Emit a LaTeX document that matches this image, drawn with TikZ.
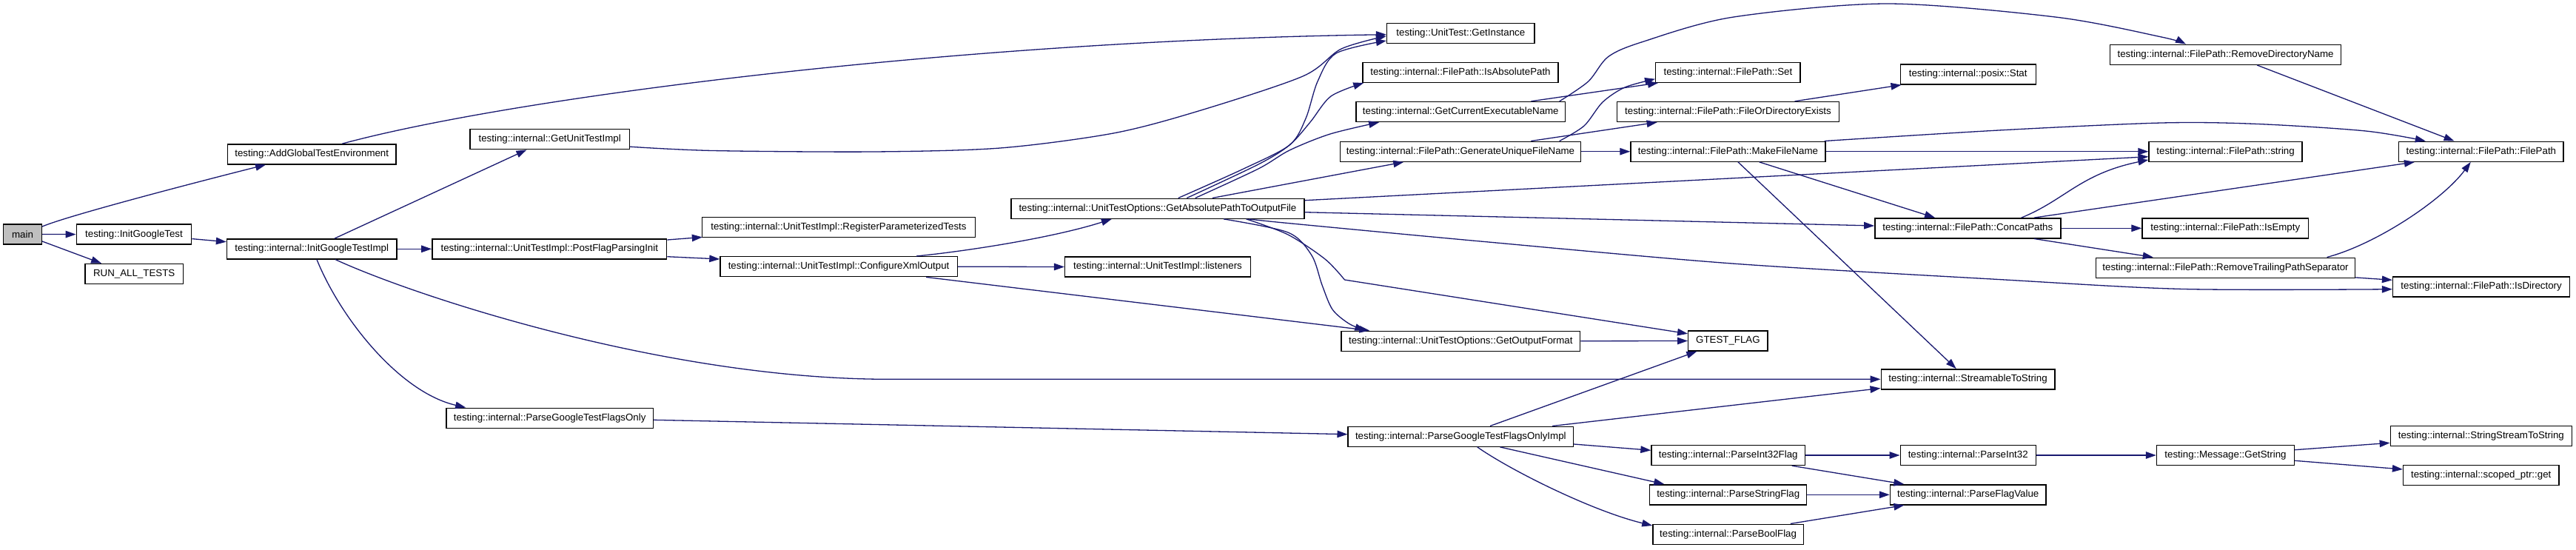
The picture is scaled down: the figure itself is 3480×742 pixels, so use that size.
\documentclass[tikz,border=0pt]{standalone}
\usepackage{fontspec}
\setmainfont{Liberation Sans}
\usetikzlibrary{arrows.meta}
\definecolor{edgecol}{HTML}{191970}
\definecolor{mainfill}{HTML}{BFBFBF}
\begin{document}
\begin{tikzpicture}[x=1pt,y=-1pt,
  box/.style={draw=black, fill=white, line width=1.4pt, minimum height=27pt, inner sep=0pt, font=\fontsize{13.3}{16}\selectfont},
  edge/.style={draw=edgecol, line width=1.3pt, -{Triangle[length=14pt,width=9.5pt]}}]
\useasboundingbox (0,0) rectangle (3480,742);
\fill[white] (0,0) rectangle (3480,742);
% nodes
\node[box, fill=mainfill, minimum width=51.7pt] (main) at (30.5,316.5) {main};
\node[box, minimum width=155.4pt] (igt) at (181,316.6) {testing::InitGoogleTest};
\node[box, minimum width=132.8pt] (rat) at (181.2,370) {RUN\_ALL\_TESTS};
\node[box, minimum width=227.7pt] (agte) at (421.2,208.3) {testing::AddGlobalTestEnvironment};
\node[box, minimum width=229.3pt] (igti) at (421.2,336.3) {testing::internal::InitGoogleTestImpl};
\node[box, minimum width=215.1pt] (guti) at (742.7,188.2) {testing::internal::GetUnitTestImpl};
\node[box, minimum width=316.9pt] (pfpi) at (742.3,336.3) {testing::internal::UnitTestImpl::PostFlagParsingInit};
\node[box, minimum width=279.3pt] (pgtfo) at (742.7,564.7) {testing::internal::ParseGoogleTestFlagsOnly};
\node[box, minimum width=368.8pt] (rpt) at (1132.9,307.2) {testing::internal::UnitTestImpl::RegisterParameterizedTests};
\node[box, minimum width=320.2pt] (cxo) at (1133.1,360.2) {testing::internal::UnitTestImpl::ConfigureXmlOutput};
\node[box, minimum width=395.9pt] (gapof) at (1563.9,281.7) {testing::internal::UnitTestOptions::GetAbsolutePathToOutputFile};
\node[box, minimum width=250.7pt] (lis) at (1564,360.5) {testing::internal::UnitTestImpl::listeners};
\node[box, minimum width=199.4pt] (gi) at (1973.3,44.7) {testing::UnitTest::GetInstance};
\node[box, minimum width=264.1pt] (iap) at (1973,97.8) {testing::internal::FilePath::IsAbsolutePath};
\node[box, minimum width=282.9pt] (gcen) at (1973.3,151) {testing::internal::GetCurrentExecutableName};
\node[box, minimum width=325.3pt] (gufn) at (1973,204.7) {testing::internal::FilePath::GenerateUniqueFileName};
\node[box, minimum width=322.6pt] (gof) at (1973.3,460.7) {testing::internal::UnitTestOptions::GetOutputFormat};
\node[box, minimum width=304.3pt] (pgtfoi) at (1973.3,589.7) {testing::internal::ParseGoogleTestFlagsOnlyImpl};
\node[box, minimum width=195.4pt] (fpset) at (2334.4,97.8) {testing::internal::FilePath::Set};
\node[box, minimum width=300.3pt] (fode) at (2334.5,151) {testing::internal::FilePath::FileOrDirectoryExists};
\node[box, minimum width=262.8pt] (mfn) at (2334.4,204.7) {testing::internal::FilePath::MakeFileName};
\node[box, minimum width=107.4pt] (gflag) at (2334.4,460.5) {GTEST\_FLAG};
\node[box, minimum width=207.3pt] (pi32f) at (2334.7,615) {testing::internal::ParseInt32Flag};
\node[box, minimum width=211.9pt] (psf) at (2334.7,668.3) {testing::internal::ParseStringFlag};
\node[box, minimum width=203.4pt] (pbf) at (2334.6,721.7) {testing::internal::ParseBoolFlag};
\node[box, minimum width=183pt] (pstat) at (2658.7,100.5) {testing::internal::posix::Stat};
\node[box, minimum width=251pt] (cp) at (2658.3,308.3) {testing::internal::FilePath::ConcatPaths};
\node[box, minimum width=234.6pt] (stos) at (2658.5,512.3) {testing::internal::StreamableToString};
\node[box, minimum width=183pt] (pi32) at (2658.7,615) {testing::internal::ParseInt32};
\node[box, minimum width=210.5pt] (pfv) at (2658.7,668.3) {testing::internal::ParseFlagValue};
\node[box, minimum width=312.3pt] (rdn) at (3006.6,73.8) {testing::internal::FilePath::RemoveDirectoryName};
\node[box, minimum width=207.1pt] (fstr) at (3006.6,204.7) {testing::internal::FilePath::string};
\node[box, minimum width=224.6pt] (ie) at (3006.3,308.3) {testing::internal::FilePath::IsEmpty};
\node[box, minimum width=349.5pt] (rtps) at (3006.5,361.7) {testing::internal::FilePath::RemoveTrailingPathSeparator};
\node[box, minimum width=186pt] (gs) at (3006.5,615) {testing::Message::GetString};
\node[box, minimum width=222.7pt] (ffp) at (3351.8,204.7) {testing::internal::FilePath::FilePath};
\node[box, minimum width=239pt] (isdir) at (3352.1,387.3) {testing::internal::FilePath::IsDirectory};
\node[box, minimum width=244.9pt] (ssts) at (3351.8,588.7) {testing::internal::StringStreamToString};
\node[box, minimum width=210.2pt] (spg) at (3351.7,641.7) {testing::internal::scoped\_ptr::get};
% edges
\draw[edge] ([yshift=-3.7pt]main.north east) .. controls (90,292) and (250,250) .. ([xshift=52.4pt]agte.south west);
\draw[edge] (main.east) -- (igt.west);
\draw[edge] ([yshift=4.7pt]main.south east) -- ([xshift=23pt]rat.north west);
\draw[edge] ([xshift=155.7pt]agte.north west) .. controls (700,130) and (1300,55) .. ([yshift=-2pt]gi.west);
\draw[edge] ([yshift=-6pt]igt.east) -- ([yshift=9.6pt]igti.west);
\draw[edge] ([xshift=146.2pt]igti.north west) -- ([xshift=77pt]guti.south west);
\draw[edge] (igti.east) -- (pfpi.west);
\draw[edge] ([xshift=122.1pt]igti.south west) .. controls (460,430) and (540,530) .. ([xshift=26.8pt]pgtfo.north west);
\draw[edge] ([xshift=147pt]igti.south west) .. controls (560,400) and (900,512.3) .. (1200,512.3) -- (stos.west);
\draw[edge] plot[smooth, tension=0.5] coordinates {([yshift=-10pt]guti.east) (962.7,203.5) (1180,205) (1351,200) (1504,180) (1619,150) (1760,103) (1812,66) ([yshift=-4pt]gi.west)};
\draw[edge] ([yshift=12.3pt]pfpi.east) -- ([xshift=1pt,yshift=1pt]rpt.south west);
\draw[edge] ([yshift=-10.4pt]pfpi.east) -- ([yshift=10.2pt]cxo.west);
\draw[edge] ([xshift=265.5pt]cxo.north west) .. controls (1300,340) and (1420,322) .. ([xshift=136.6pt]gapof.south west);
\draw[edge] (cxo.east) -- (lis.west);
\draw[edge] ([xshift=278.8pt]cxo.south west) -- ([xshift=39pt]gof.north west);
\draw[edge] ([yshift=-2.6pt]pgtfo.east) -- ([yshift=3pt]pgtfoi.west);
% GetAbsolutePathToOutputFile fan
\draw[edge] plot[smooth, tension=0.5] coordinates {([xshift=226.5pt]gapof.north west) (1680,228) (1742,196) (1764,160) (1780,110) (1805,72) ([yshift=-10.3pt]gi.west)};
\draw[edge] plot[smooth, tension=0.5] coordinates {([xshift=238.1pt]gapof.north west) (1700,222) (1742,196) (1770,165) (1798,130) ([xshift=2pt]iap.south west)};
\draw[edge] plot[smooth, tension=0.5] coordinates {([xshift=249.5pt]gapof.north west) (1700,228) (1742,203) (1797,181) ([xshift=32pt]gcen.south west)};
\draw[edge] ([xshift=272.5pt]gapof.north west) -- ([xshift=86.6pt]gufn.south west);
\draw[edge] ([yshift=11pt]gapof.east) -- ([yshift=-7pt]fstr.west);
\draw[edge] ([yshift=-5pt]gapof.east) -- ([yshift=3.3pt]cp.west);
\draw[edge] plot[smooth, tension=0.5] coordinates {([xshift=322pt]gapof.south west) (1740,301.5) (2000,326) (2340,356) (2700,377.5) (2950,390.5) ([yshift=-3.4pt]isdir.west)};
\draw[edge] plot[smooth, tension=0.5] coordinates {([xshift=287.8pt]gapof.south west) (1740,314) (1772,345) (1786,385) (1800,418) (1822,437) ([xshift=33pt]gof.north west)};
\draw[edge] plot[smooth, tension=0.5] coordinates {([xshift=318.4pt]gapof.south west) (1740,317) (1790,350) (1816.5,378)} -- ([yshift=9.7pt]gflag.west);
% FilePath cluster
\draw[edge] plot[smooth, tension=0.5] coordinates {([xshift=297pt]gufn.north west) (2140,170) (2165,138) (2195,118) ([yshift=-8.9pt]fpset.west)};
\draw[edge] ([xshift=258.6pt]gufn.north west) -- ([xshift=55pt]fode.south west);
\draw[edge] (gufn.east) -- (mfn.west);
\draw[edge] ([xshift=237.2pt]gcen.north west) -- ([xshift=4pt]fpset.south west);
\draw[edge] plot[smooth, tension=0.5] coordinates {([xshift=275.6pt]gcen.north west) (2145.7,110) (2172.5,76.7) (2218.4,56.7) (2340,23.3) (2549.6,5) (2779,23.3) (2920,50) ([xshift=103.2pt]rdn.north west)};
\draw[edge] ([xshift=240.9pt]fode.north west) -- ([xshift=2pt]pstat.south west);
\draw[edge] plot[smooth, tension=0.5] coordinates {([xshift=262.4pt]mfn.north west) (2700,176) (2920,166) (3050,167.5) (3196,177) ([xshift=37pt]ffp.north west)};
\draw[edge] (mfn.east) -- (fstr.west);
\draw[edge] ([xshift=174.4pt]mfn.south west) -- ([xshift=81.9pt]cp.north west);
\draw[edge] ([xshift=145.7pt]mfn.south west) -- ([xshift=102.2pt]stos.north west);
\draw[edge] ([xshift=198.6pt]cp.north west) .. controls (2790,270) and (2810,235) .. ([yshift=3pt]fstr.south west);
\draw[edge] ([xshift=215.8pt]cp.north west) -- ([xshift=22.2pt]ffp.south west);
\draw[edge] (cp.east) -- (ie.west);
\draw[edge] ([xshift=215.8pt]cp.south west) -- ([xshift=77.7pt]rtps.north west);
\draw[edge] ([xshift=312.5pt]rtps.north west) .. controls (3210,330) and (3300,270) .. ([xshift=98pt]ffp.south west);
\draw[edge] ([yshift=1pt]rtps.south east) -- ([yshift=9pt]isdir.west);
\draw[edge] ([xshift=199.4pt]rdn.south west) -- ([xshift=75.8pt]ffp.north west);
% flags
\draw[edge] (gof.east) -- (gflag.west);
\draw[edge] ([xshift=192.5pt]pgtfoi.north west) -- ([xshift=12.3pt]gflag.south west);
\draw[edge] ([xshift=276.7pt]pgtfoi.north west) -- ([yshift=2pt]stos.south west);
\draw[edge] ([yshift=-10.3pt]pgtfoi.east) -- ([yshift=6.7pt]pi32f.west);
\draw[edge] ([xshift=206pt]pgtfoi.south west) -- ([xshift=20.3pt]psf.north west);
\draw[edge] ([xshift=175.3pt]pgtfoi.south west) .. controls (2040,635) and (2150,690) .. ([yshift=-2.5pt]pbf.north west);
\draw[edge] (pi32f.east) -- (pi32.west);
\draw[edge] ([xshift=190.4pt]pi32f.south west) -- ([xshift=19.6pt]pfv.north west);
\draw[edge] (psf.east) -- (pfv.west);
\draw[edge] ([xshift=186.6pt]pbf.north west) -- ([xshift=19.6pt]pfv.south west);
\draw[edge] (pi32.east) -- (gs.west);
\draw[edge] ([yshift=7.3pt]gs.east) -- ([yshift=-9.6pt]ssts.west);
\draw[edge] ([yshift=-7.3pt]gs.east) -- ([yshift=7.7pt]spg.west);
\end{tikzpicture}
\end{document}
